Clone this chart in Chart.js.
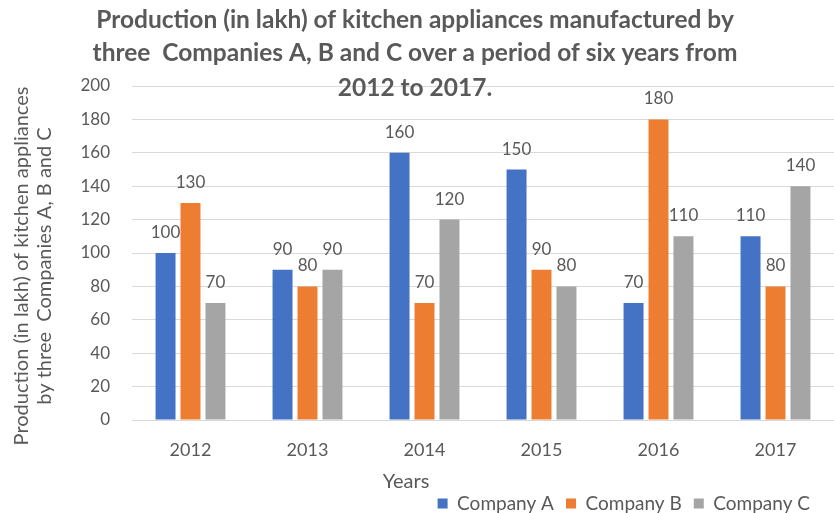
<!DOCTYPE html>
<html>
<head>
<meta charset="utf-8">
<script src="https://cdn.jsdelivr.net/npm/chart.js@4.4.0/dist/chart.umd.min.js"></script>
<style>
  html, body { margin: 0; padding: 0; background: #fff; }
  #wrap { width: 834px; height: 513px; }
</style>
</head>
<body>
<div id="wrap"><canvas id="grafico" width="834" height="513"></canvas></div>
<script>
const anos = ['2012', '2013', '2014', '2015', '2016', '2017'];
const companyA = [100, 90, 160, 150, 70, 110];
const companyB = [130, 80, 70, 90, 180, 80];
const companyC = [70, 90, 120, 80, 110, 140];
const yTicks = [0, 20, 40, 60, 80, 100, 120, 140, 160, 180, 200];

const titulo = [
    'Production (in lakh) of kitchen appliances manufactured by',
    'three  Companies A, B and C over a period of six years from',
    '2012 to 2017.'
];
const tituloY = ['Production (in lakh) of kitchen appliances', 'by three  Companies A, B and C'];
const cinza = '#595959';
const fonte = 'Lato, "Open Sans", sans-serif';

// titulo, titulo do eixo y, "Years" e os valores em cima das barras
const textos = {
    id: 'textos',
    afterLayout(chart) {
        // legenda um pouco mais para baixo e antes da borda, como no original
        chart.legend.right = 822;
        chart.legend.top += 10;
        chart.legend.bottom += 10;
    },
    afterDatasetsDraw(chart) {
        const ctx = chart.ctx;
        ctx.save();
        ctx.fillStyle = cinza;
        ctx.font = '17px ' + fonte;
        ctx.textAlign = 'center';
        ctx.textBaseline = 'alphabetic';
        chart.data.datasets.forEach((ds, i) => {
            chart.getDatasetMeta(i).data.forEach((bar, j) => {
                ctx.fillText(ds.data[j], bar.x, bar.y - 15);
            });
        });
        ctx.restore();
    },
    afterDraw(chart) {
        const ctx = chart.ctx;
        ctx.save();
        ctx.fillStyle = cinza;
        ctx.textAlign = 'center';
        ctx.textBaseline = 'middle';
        ctx.font = 'bold 24.5px ' + fonte;
        const ys = [20, 53, 88];
        titulo.forEach((t, i) => ctx.fillText(t, 415, ys[i]));
        ctx.font = '20px ' + fonte;
        ctx.fillText('Years', 406, 482);
        ctx.translate(0, 266);
        ctx.rotate(-Math.PI / 2);
        ctx.fillText(tituloY[0], 0, 22);
        ctx.fillText(tituloY[1], 0, 45);
        ctx.restore();
    }
};

const ctx = document.getElementById('grafico').getContext('2d');
const grafico = new Chart(ctx, {
    type: 'bar',
    data: {
        labels: anos,
        datasets: [
            { label: 'Company A', data: companyA, backgroundColor: '#4472C4' },
            { label: 'Company B', data: companyB, backgroundColor: '#ED7D31' },
            { label: 'Company C', data: companyC, backgroundColor: '#A5A5A5' }
        ]
    },
    plugins: [textos],
    options: {
        responsive: false,
        animation: false,
        categoryPercentage: 0.64,
        barPercentage: 0.8,
        layout: { padding: { top: 86, left: 0, right: 0, bottom: 0 } },
        scales: {
            x: {
                grid: { display: false },
                border: { display: false },
                ticks: { color: cinza, font: { family: fonte, size: 18 }, padding: 11 },
                afterFit(scale) { scale.height = 52; }
            },
            y: {
                min: 0,
                max: 200,
                afterBuildTicks(scale) { scale.ticks = yTicks.map(v => ({ value: v })); },
                grid: { color: '#d9d9d9', drawTicks: false },
                border: { display: false },
                ticks: { color: cinza, font: { family: fonte, size: 17 }, padding: 22 },
                afterFit(scale) { scale.width = 132; }
            }
        },
        plugins: {
            title: { display: false },
            tooltip: { enabled: false },
            legend: {
                position: 'bottom',
                align: 'end',
                labels: {
                    color: cinza,
                    font: { family: fonte, size: 19 },
                    boxWidth: 10,
                    boxHeight: 10,
                    padding: 12
                }
            }
        }
    }
});
</script>
</body>
</html>
